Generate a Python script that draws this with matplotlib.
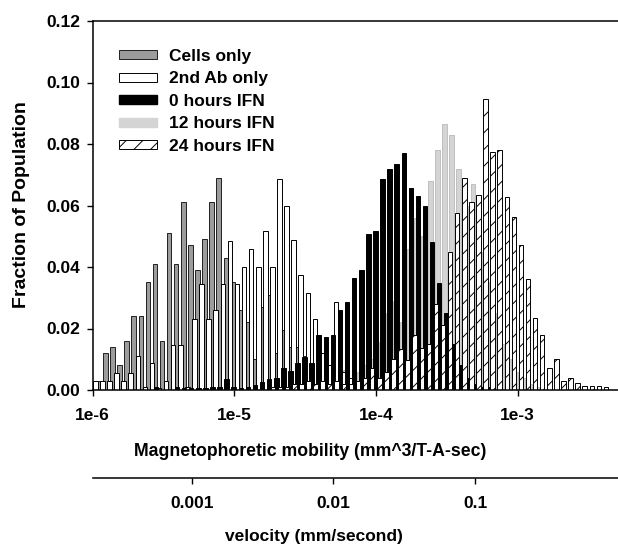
import numpy as np
import matplotlib.pyplot as plt
from matplotlib.patches import Patch

plt.rcParams['font.family'] = ['Liberation Sans', 'DejaVu Sans']
plt.rcParams['font.weight'] = 'bold'
plt.rcParams['hatch.linewidth'] = 0.7

# histogram bins: 20 per decade starting at 1e-6 (bin centres, log10)
first_bin_log = -6.0
bin_step_log = 0.05

cells_only = [0.0, 0.003, 0.012, 0.014, 0.008, 0.016, 0.024, 0.024, 0.035, 0.041,
              0.016, 0.051, 0.041, 0.061, 0.047, 0.039, 0.049, 0.061, 0.069, 0.043,
              0.035, 0.026, 0.022, 0.010, 0.027, 0.031, 0.012, 0.0195, 0.014, 0.014,
              0.011, 0.004, 0.003, 0.002, 0.001, 0.001, 0, 0, 0, 0,
              0, 0, 0, 0, 0, 0, 0, 0, 0, 0,
              0, 0, 0, 0, 0, 0, 0, 0, 0, 0,
              0, 0, 0, 0, 0, 0, 0, 0, 0, 0,
              0, 0, 0, 0]
second_ab_only = [0.003, 0.003, 0.003, 0.0056, 0.003, 0.0056, 0.011, 0.001, 0.0087, 0.0005,
                  0.003, 0.0146, 0.0146, 0.001, 0.023, 0.0345, 0.023, 0.026, 0.0345, 0.0486,
                  0.0345, 0.040, 0.046, 0.040, 0.0517, 0.040, 0.0685, 0.060, 0.0488, 0.0374,
                  0.0317, 0.023, 0.012, 0.008, 0.0287, 0.006, 0.004, 0.003, 0.002, 0.001,
                  0.001, 0, 0, 0, 0, 0, 0, 0, 0, 0,
                  0, 0, 0, 0, 0, 0, 0, 0, 0, 0,
                  0, 0, 0, 0, 0, 0, 0, 0, 0, 0,
                  0, 0, 0, 0]
ifn_0h = [0, 0, 0, 0, 0, 0, 0, 0, 0, 0.001,
          0, 0, 0.001, 0.0005, 0.0005, 0.0005, 0.0005, 0.001, 0.001, 0.0035,
          0.001, 0.0005, 0.001, 0.0016, 0.0027, 0.0035, 0.004, 0.007, 0.0063, 0.0089,
          0.0108, 0.0089, 0.0179, 0.0173, 0.018, 0.026, 0.0287, 0.0365, 0.039, 0.0507,
          0.0517, 0.0686, 0.0719, 0.0735, 0.0772, 0.0658, 0.063, 0.060, 0.048, 0.0347,
          0.025, 0.015, 0.008, 0.004, 0.002, 0.001, 0.001, 0, 0, 0,
          0, 0, 0, 0, 0, 0, 0, 0, 0, 0,
          0, 0, 0, 0]
ifn_12h = [0, 0, 0, 0, 0, 0, 0, 0, 0, 0,
           0, 0, 0, 0, 0, 0, 0, 0, 0, 0,
           0.0005, 0.0005, 0.001, 0.0005, 0.001, 0.001, 0.001, 0.002, 0.002, 0.003,
           0.003, 0.003, 0.004, 0.003, 0.004, 0.005, 0.0065, 0.004, 0.006, 0.008,
           0.010, 0.0157, 0.025, 0.029, 0.022, 0.046, 0.056, 0.050, 0.068, 0.078,
           0.0865, 0.083, 0.072, 0.060, 0.067, 0.045, 0.035, 0.025, 0.015, 0.010,
           0.006, 0.004, 0.002, 0.001, 0, 0, 0, 0, 0, 0,
           0, 0, 0, 0]
ifn_24h = [0, 0, 0, 0, 0, 0, 0, 0, 0, 0,
           0, 0, 0, 0, 0, 0, 0, 0, 0, 0,
           0, 0, 0, 0, 0, 0.001, 0.001, 0.001, 0.002, 0.002,
           0.003, 0.002, 0.003, 0.002, 0.003, 0.002, 0.002, 0.003, 0.004, 0.007,
           0.004, 0.006, 0.010, 0.0132, 0.0096, 0.018, 0.0135, 0.015, 0.028, 0.021,
           0.045, 0.0575, 0.0688, 0.061, 0.0634, 0.0946, 0.0773, 0.078, 0.0628, 0.0564,
           0.047, 0.036, 0.0235, 0.018, 0.007, 0.010, 0.003, 0.0038, 0.0022, 0.0013,
           0.0013, 0.0013, 0.001, 0]

labels = ['Cells only', '2nd Ab only', '0 hours IFN', '12 hours IFN', '24 hours IFN']
vel_per_mobility = 200.0   # velocity (mm/s) = 200 * mobility

bar_w = 0.032   # decades


def draw_bars(ax, vals, offset, **kw):
    vals = np.asarray(vals, dtype=float)
    idx = np.arange(len(vals))
    keep = vals > 0
    c = first_bin_log + bin_step_log * idx[keep] + offset
    left = 10 ** (c - bar_w / 2)
    right = 10 ** (c + bar_w / 2)
    ax.bar(left, vals[keep], width=right - left, align='edge', **kw)


fig = plt.figure(figsize=(6.18, 5.47), dpi=100)
ax = fig.add_axes([92.6 / 618, 157 / 547, 525 / 618, 369 / 547])

draw_bars(ax, cells_only, -0.010, color='#9c9c9c', edgecolor='#202020', linewidth=0.7)
draw_bars(ax, ifn_12h, -0.016, color='#d4d4d4', edgecolor='#b8b8b8', linewidth=0.6)
draw_bars(ax, second_ab_only, 0.019, color='white', edgecolor='black', linewidth=0.7)
draw_bars(ax, ifn_0h, -0.004, color='black', edgecolor='black', linewidth=0.7)
draw_bars(ax, ifn_24h, 0.023, color='white', edgecolor='black', linewidth=0.7, hatch='//')

ax.set_xscale('log')
ax.set_xlim(1e-6, 10 ** (-6 + 525 / 141.7))
ax.set_ylim(0, 0.12)
ax.xaxis.set_major_locator(plt.FixedLocator([1e-6, 1e-5, 1e-4, 1e-3]))
ax.xaxis.set_minor_locator(plt.NullLocator())
ax.set_xticklabels(['1e-6', '1e-5', '1e-4', '1e-3'])
ax.set_yticks(np.arange(0, 0.121, 0.02))
ax.set_yticklabels(['%.2f' % v for v in np.arange(0, 0.121, 0.02)])
ax.tick_params(axis='both', direction='out', length=4, width=1, labelsize=12.5)
ax.tick_params(axis='x', pad=9)
ax.tick_params(axis='y', pad=5)
ax.spines['right'].set_visible(False)
for s in ['left', 'bottom', 'top']:
    ax.spines[s].set_linewidth(1.1)

handles = [Patch(facecolor='#9c9c9c', edgecolor='#202020', linewidth=0.7),
           Patch(facecolor='white', edgecolor='black', linewidth=0.7),
           Patch(facecolor='black', edgecolor='black'),
           Patch(facecolor='#d4d4d4', edgecolor='#d4d4d4'),
           Patch(facecolor='white', edgecolor='black', linewidth=0.7, hatch='//')]
ax.legend(handles, labels, loc='upper left', bbox_to_anchor=(119 / 618, 1 - 49 / 547),
          bbox_transform=fig.transFigure, frameon=False, fontsize=12.5,
          handlelength=2.2, handleheight=0.45, handletextpad=0.7,
          labelspacing=0.43, borderpad=0, borderaxespad=0)

# secondary velocity axis
ax2 = fig.add_axes([92.6 / 618, (547 - 477.7) / 547, 525 / 618, 0.0001])
ax2.set_xscale('log')
ax2.set_xlim(1e-6 * vel_per_mobility, 10 ** (-6 + 525 / 141.7) * vel_per_mobility)
ax2.xaxis.set_major_locator(plt.FixedLocator([0.001, 0.01, 0.1]))
ax2.xaxis.set_minor_locator(plt.NullLocator())
ax2.set_xticklabels(['0.001', '0.01', '0.1'])
ax2.tick_params(axis='x', direction='out', length=4, width=1, labelsize=12.5, pad=9)
ax2.set_yticks([])
for s in ['left', 'right', 'top']:
    ax2.spines[s].set_visible(False)
ax2.spines['bottom'].set_linewidth(1.1)
ax2.patch.set_visible(False)

fig.text(310 / 618, 1 - 451 / 547, 'Magnetophoretic mobility (mm^3/T-A-sec)',
         ha='center', va='center', fontsize=12.7, fontweight='bold')
fig.text(314 / 618, 1 - 537 / 547, 'velocity (mm/second)',
         ha='center', va='center', fontsize=12.5, fontweight='bold')
fig.text(22 / 618, 1 - 205 / 547, 'Fraction of Population', rotation=90,
         ha='center', va='center', fontsize=14, fontweight='bold')

fig.savefig('out.png', dpi=100)
